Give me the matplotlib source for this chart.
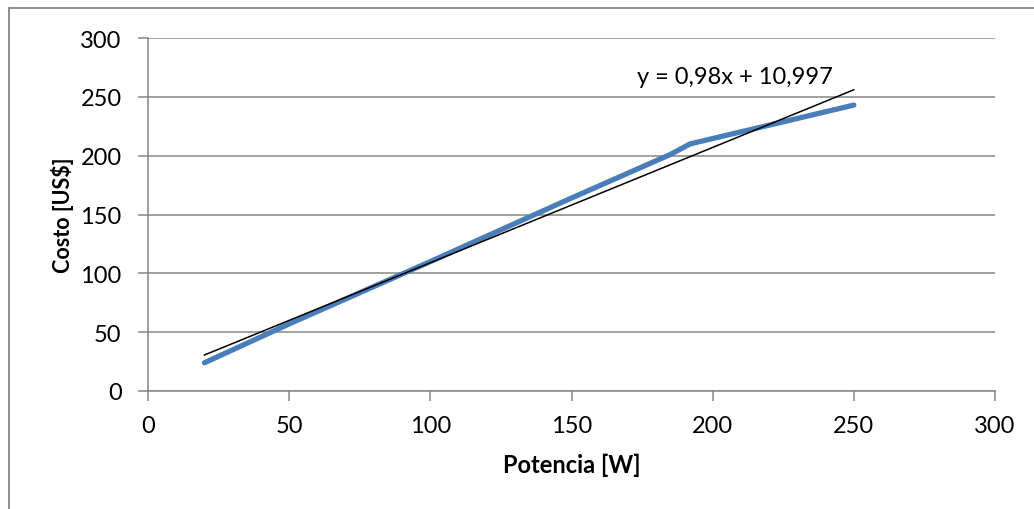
import matplotlib
matplotlib.use("Agg")
import matplotlib.pyplot as plt
from matplotlib.lines import Line2D
import numpy as np

# Power (W) vs cost (US$)
potencia = [20, 50, 100, 150, 185, 192, 250]
costo = [24, 57, 110, 164, 201, 210, 243]

# Linear trend line coefficients
pendiente = 0.98
intercepto = 10.997

x_ticks = [0, 50, 100, 150, 200, 250, 300]
y_ticks = [0, 50, 100, 150, 200, 250, 300]

plt.rcParams['font.family'] = ['Lato', 'DejaVu Sans']

W, H = 1034, 510
fig = plt.figure(figsize=(W/100, H/100), dpi=100)
ax = fig.add_axes([148/W, 1-392/H, (995-148)/W, (392-39)/H])

grey = '#868686'

ax.plot(potencia, costo, color='#4A7EBB', lw=3.8, solid_capstyle='round', zorder=3)

xt = np.array([potencia[0], potencia[-1]])
ax.plot(xt, pendiente*xt + intercepto, color='black', lw=1.1, zorder=4)

ax.set_xlim(0, 300)
ax.set_ylim(0, 300)
ax.set_xticks(x_ticks)
ax.set_yticks(y_ticks)
ax.yaxis.grid(True, color=grey, lw=1.1)
ax.set_axisbelow(True)

for s in ['top', 'right']:
    ax.spines[s].set_visible(False)
for s in ['left', 'bottom']:
    ax.spines[s].set_color(grey)
    ax.spines[s].set_linewidth(1.1)

ax.tick_params(axis='both', colors=grey, length=7, width=1.1, direction='out',
               labelsize=17, labelcolor='black')
ax.tick_params(axis='x', pad=10)
ax.tick_params(axis='y', pad=12)

ax.set_xlabel('Potencia [W]', fontsize=17, fontweight='bold')
ax.xaxis.set_label_coords(0.5, (392-465)/(392-39), transform=ax.transAxes)
ax.xaxis.label.set_va('center')
ax.set_ylabel('Costo [US$]', fontsize=15.5, fontweight='bold')
ax.yaxis.set_label_coords((62-148)/(995-148), (392-215)/(392-39), transform=ax.transAxes)
ax.yaxis.label.set_va('center')

ax.text(735, H-78, 'y = 0,98x + 10,997', transform=None, fontsize=17,
        ha='center', va='center')

# Chart area border (left and top edges)
fig.add_artist(Line2D([9/W, 9/W], [0, 1-9/H], transform=fig.transFigure,
                      color=grey, lw=1.3))
fig.add_artist(Line2D([9/W, 1], [1-9/H, 1-9/H], transform=fig.transFigure,
                      color=grey, lw=1.3))

fig.savefig('out.png', dpi=100)
